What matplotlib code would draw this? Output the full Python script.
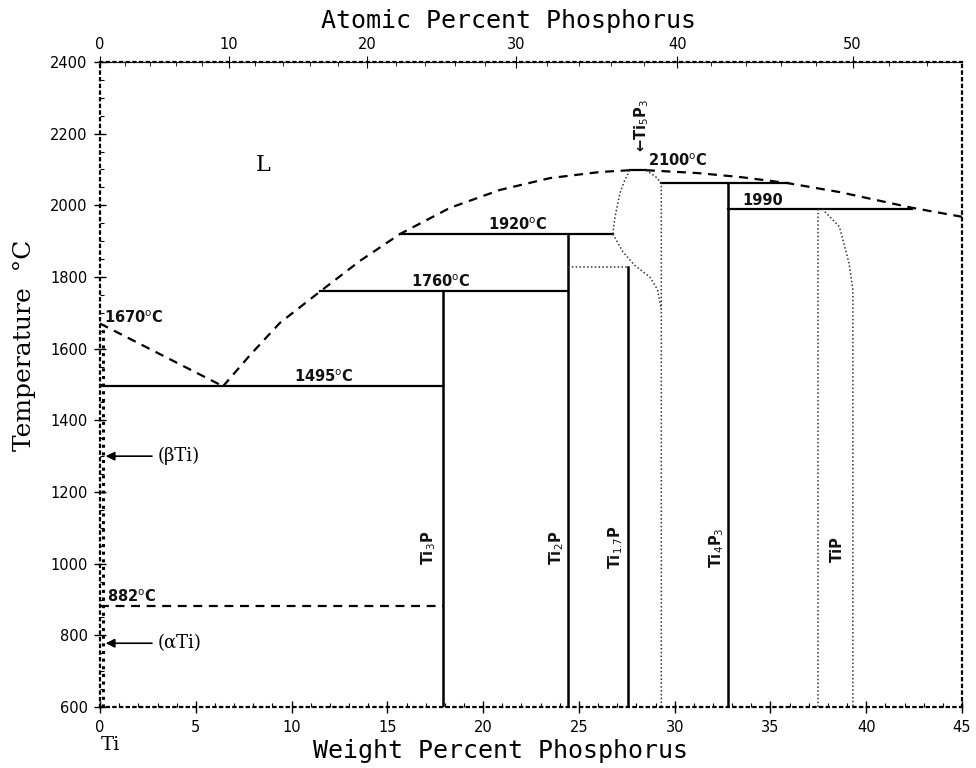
import numpy as np
import matplotlib.pyplot as plt
from matplotlib.ticker import MultipleLocator

## Phase boundaries (wt% P, deg C)
liq_a_wt = [0, 6.42]
liq_a_t = [1670, 1495]
liq_b_wt = [6.42, 7.83, 9.39, 11.5, 13.57, 15.66, 18.27, 20.88, 23.49, 26.1, 27.66]
liq_b_t = [1495, 1582, 1672, 1760, 1845, 1920, 1993, 2043, 2076, 2093, 2098]
liq_c_wt = [28.5, 31.2, 33.4, 35.9, 38.6, 42.4, 45.0]
liq_c_t = [2098, 2090, 2079, 2062, 2037, 1993, 1968]

# compounds (solid verticals)
comp_wt = [17.9, 24.45, 27.56, 32.8]
comp_top = [1760, 1920, 1828, 2062]
comp_names = ['Ti$_3$P', 'Ti$_2$P', 'Ti$_{1.7}$P', 'Ti$_4$P$_3$']

# invariant lines
inv_t = [1495, 1760, 1920, 2062, 1990, 2098]
inv_x0 = [0, 11.5, 15.66, 29.3, 32.8, 27.66]
inv_x1 = [17.9, 24.45, 26.77, 35.9, 42.4, 28.5]

# dotted boundaries
ti5p3_l_wt = [26.77, 26.88, 27.14, 27.4, 27.66]
ti5p3_l_t = [1920, 1967, 2034, 2071, 2098]
ti5p3_b_wt = [26.77, 27.3, 27.9, 28.7, 29.1, 29.3]
ti5p3_b_t = [1920, 1870, 1833, 1800, 1765, 1710]
ti5p3_r_wt = [28.5, 29.0, 29.3, 29.3]
ti5p3_r_t = [2098, 2080, 2062, 600]
ti17p_wt = [24.45, 27.56]
ti17p_t = [1828, 1828]
tip_l_wt = [37.5, 37.5]
tip_l_t = [600, 1990]
tip_r_wt = [37.7, 38.6, 39.1, 39.3, 39.3]
tip_r_t = [1990, 1940, 1839, 1764, 600]
beta_wt = [0.15, 0.15]
beta_t = [600, 1670]

# alpha/beta transformation
ab_wt = [0, 17.9]
ab_t = [882, 882]

M_P = 30.974
M_TI = 47.867


def wt2at(w):
    w = np.asarray(w, dtype=float)
    p = w / M_P
    return 100 * p / (p + (100 - w) / M_TI)


def at2wt(a):
    a = np.asarray(a, dtype=float)
    p = a * M_P
    return 100 * p / (p + (100 - a) * M_TI)


fig = plt.figure(figsize=(9.76, 7.68), dpi=100)
ax = fig.add_axes([0.1025, 0.0794, 0.8832, 0.8399])

dash = dict(color='black', lw=1.6, linestyle=(0, (4, 3)))
dot = dict(color='#333333', lw=1.1, linestyle=(0, (1, 1.5)))

ax.plot(liq_a_wt, liq_a_t, **dash)
ax.plot(liq_b_wt, liq_b_t, **dash)
ax.plot(liq_c_wt, liq_c_t, **dash)
ax.plot(ab_wt, ab_t, **dash)

for w, top in zip(comp_wt, comp_top):
    ax.plot([w, w], [600, top], color='black', lw=1.8)
for t, x0, x1 in zip(inv_t, inv_x0, inv_x1):
    ax.plot([x0, x1], [t, t], color='black', lw=1.6)

for xs, ys in [(ti5p3_l_wt, ti5p3_l_t), (ti5p3_b_wt, ti5p3_b_t),
               (ti5p3_r_wt, ti5p3_r_t), (ti17p_wt, ti17p_t),
               (tip_l_wt, tip_l_t), (tip_r_wt, tip_r_t)]:
    ax.plot(xs, ys, **dot)
ax.plot(beta_wt, beta_t, color='black', lw=2.2, linestyle=(0, (1, 1.5)))

## labels
lab = dict(fontsize=10.5, fontweight='bold', color='#111111')
ax.text(0.2, 1662, '1670$^{\\rm o}$C', ha='left', va='bottom', **lab)
ax.text(11.7, 1498, '1495$^{\\rm o}$C', ha='center', va='bottom', **lab)
ax.text(17.8, 1763, '1760$^{\\rm o}$C', ha='center', va='bottom', **lab)
ax.text(21.8, 1923, '1920$^{\\rm o}$C', ha='center', va='bottom', **lab)
ax.text(28.6, 2100, '2100$^{\\rm o}$C', ha='left', va='bottom', **lab)
ax.text(34.6, 1993, '1990', ha='center', va='bottom', **lab)
ax.text(0.35, 885, '882$^{\\rm o}$C', ha='left', va='bottom', **lab)

name_shift = [-0.75, -0.6, -0.65, -0.6]
for w, name, dx in zip(comp_wt, comp_names, name_shift):
    ax.text(w + dx, 1045, name, rotation=90, ha='center', va='center', **lab)
ax.text(38.5, 1040, 'TiP', rotation=90, ha='center', va='center', **lab)
ax.text(28.3, 2150, '\u2190Ti$_5$P$_3$', rotation=90, ha='center', va='bottom', **lab)

ax.text(8.5, 2113, 'L', fontsize=16, family='DejaVu Serif', ha='center', va='center')
ax.annotate('(\u03b2Ti)', xy=(0.15, 1300), xytext=(3.0, 1300), fontsize=13,
            family='DejaVu Serif', va='center',
            arrowprops=dict(arrowstyle='-|>', color='black', lw=1.2))
ax.annotate('(\u03b1Ti)', xy=(0.15, 778), xytext=(3.0, 778), fontsize=13,
            family='DejaVu Serif', va='center',
            arrowprops=dict(arrowstyle='-|>', color='black', lw=1.2))

## axes
ax.set_xlim(0, 45)
ax.set_ylim(600, 2400)
ax.xaxis.set_major_locator(MultipleLocator(5))
ax.xaxis.set_minor_locator(MultipleLocator(1))
ax.yaxis.set_major_locator(MultipleLocator(200))
ax.yaxis.set_minor_locator(MultipleLocator(50))
ax.tick_params(which='major', direction='inout', length=8, width=1, labelsize=10.5, pad=5)
ax.tick_params(which='minor', direction='in', length=3, width=0.8)
for s in ax.spines.values():
    s.set_linestyle((0, (1, 2)))
    s.set_linewidth(1.6)

ax.set_xlabel('Weight Percent Phosphorus', fontsize=18, family='DejaVu Sans Mono',
              labelpad=3, x=0.465)
ax.set_ylabel('Temperature  \u00b0C', fontsize=18, family='DejaVu Serif',
              labelpad=10, y=0.56)

top = ax.secondary_xaxis('top', functions=(wt2at, at2wt))
top.set_xticks([0, 10, 20, 30, 40, 50])
top.xaxis.set_minor_locator(MultipleLocator(2))
top.tick_params(which='major', direction='inout', length=8, labelsize=10.5, pad=3)
top.tick_params(which='minor', direction='in', length=3)
top.spines['top'].set_linestyle((0, (1, 2)))
top.set_xlabel('Atomic Percent Phosphorus', fontsize=18, family='DejaVu Sans Mono',
               labelpad=7, x=0.474)

fig.text(0.113, 0.03, 'Ti', fontsize=14, family='DejaVu Serif', ha='center', va='center')

plt.savefig('out.png', dpi=100)
